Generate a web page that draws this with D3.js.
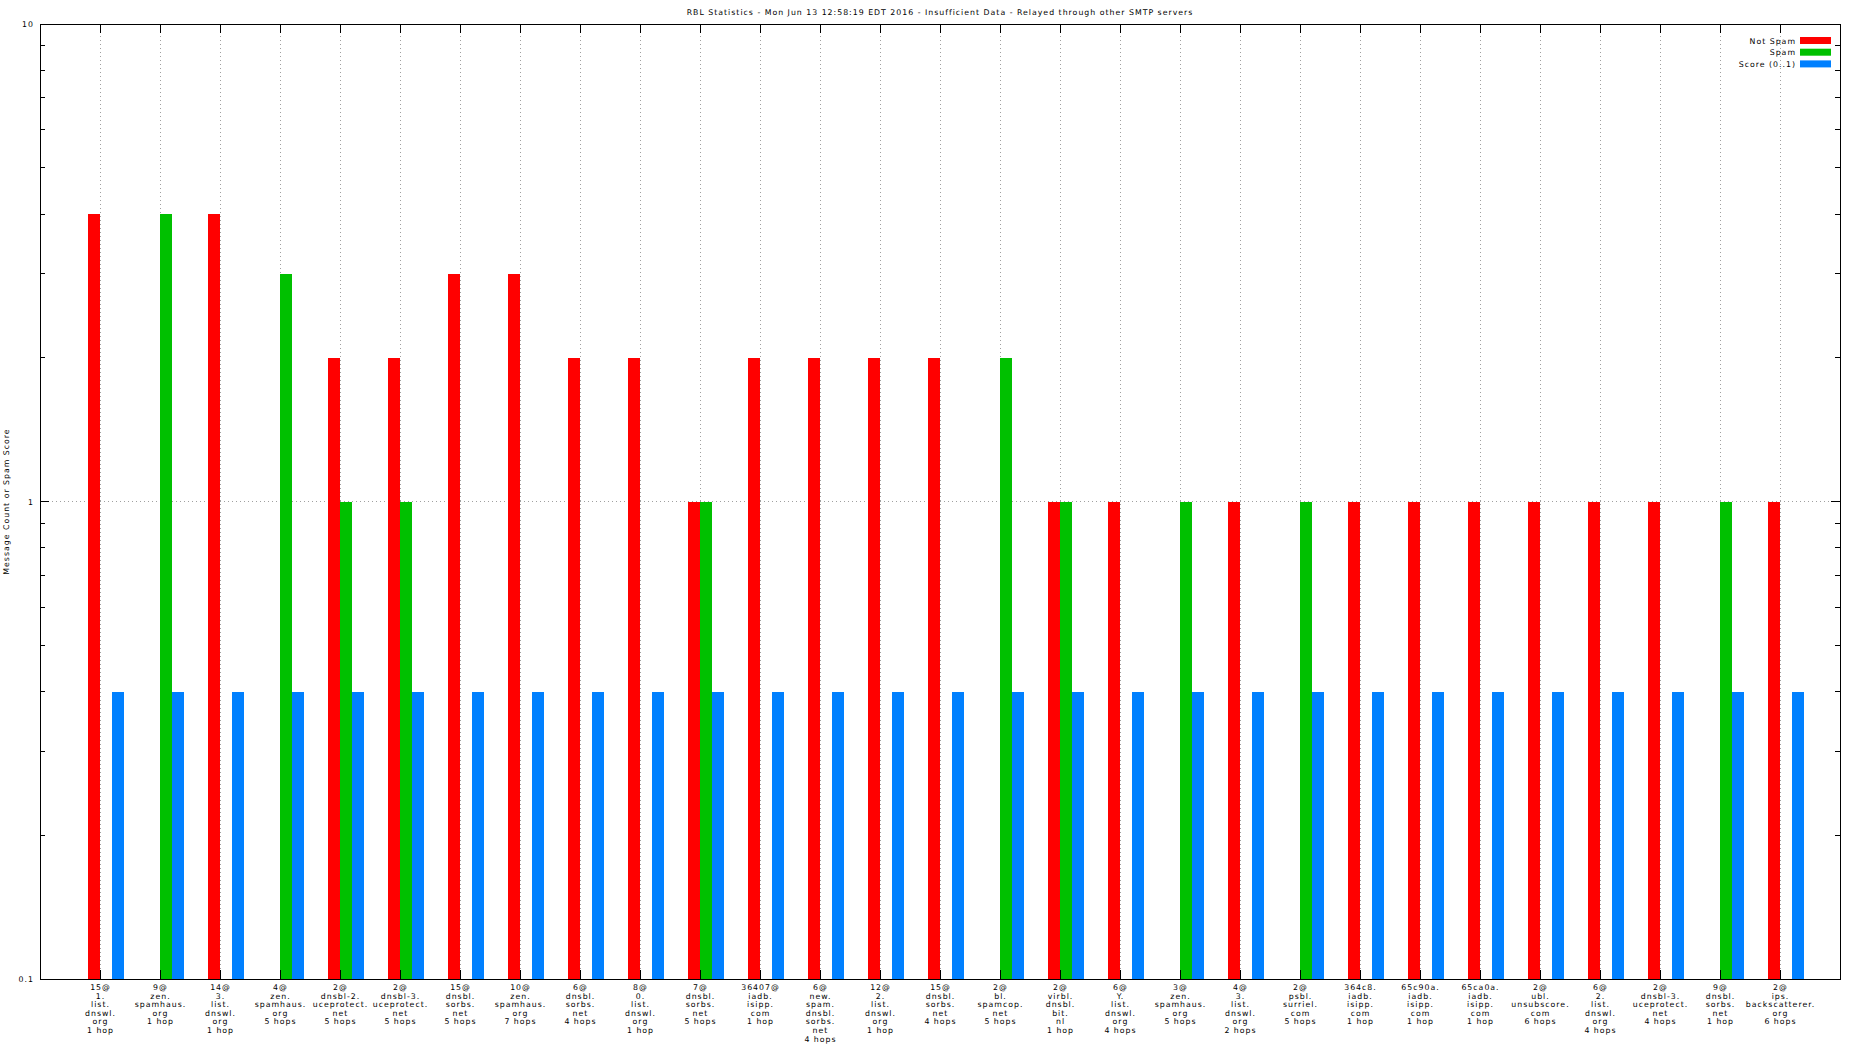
<!DOCTYPE html>
<html><head><meta charset="utf-8">
<script src="https://cdn.jsdelivr.net/npm/d3@7"></script>
<style>
html,body{margin:0;padding:0;background:#fff;}
svg text{font-family:"DejaVu Sans",sans-serif;font-size:7.8px;letter-spacing:1px;fill:#000;}
</style></head><body>
<svg id="c" width="1856" height="1044"></svg>
<script>
const categories = [
"15@\n1.\nlist.\ndnswl.\norg\n1 hop",
"9@\nzen.\nspamhaus.\norg\n1 hop",
"14@\n3.\nlist.\ndnswl.\norg\n1 hop",
"4@\nzen.\nspamhaus.\norg\n5 hops",
"2@\ndnsbl-2.\nuceprotect.\nnet\n5 hops",
"2@\ndnsbl-3.\nuceprotect.\nnet\n5 hops",
"15@\ndnsbl.\nsorbs.\nnet\n5 hops",
"10@\nzen.\nspamhaus.\norg\n7 hops",
"6@\ndnsbl.\nsorbs.\nnet\n4 hops",
"8@\n0.\nlist.\ndnswl.\norg\n1 hop",
"7@\ndnsbl.\nsorbs.\nnet\n5 hops",
"36407@\niadb.\nisipp.\ncom\n1 hop",
"6@\nnew.\nspam.\ndnsbl.\nsorbs.\nnet\n4 hops",
"12@\n2.\nlist.\ndnswl.\norg\n1 hop",
"15@\ndnsbl.\nsorbs.\nnet\n4 hops",
"2@\nbl.\nspamcop.\nnet\n5 hops",
"2@\nvirbl.\ndnsbl.\nbit.\nnl\n1 hop",
"6@\nY.\nlist.\ndnswl.\norg\n4 hops",
"3@\nzen.\nspamhaus.\norg\n5 hops",
"4@\n3.\nlist.\ndnswl.\norg\n2 hops",
"2@\npsbl.\nsurriel.\ncom\n5 hops",
"364c8.\niadb.\nisipp.\ncom\n1 hop",
"65c90a.\niadb.\nisipp.\ncom\n1 hop",
"65ca0a.\niadb.\nisipp.\ncom\n1 hop",
"2@\nubl.\nunsubscore.\ncom\n6 hops",
"6@\n2.\nlist.\ndnswl.\norg\n4 hops",
"2@\ndnsbl-3.\nuceprotect.\nnet\n4 hops",
"9@\ndnsbl.\nsorbs.\nnet\n1 hop",
"2@\nips.\nbackscatterer.\norg\n6 hops"
];
const notSpam = [4,0,4,0,2,2,3,3,2,2,1,2,2,2,2,0,1,1,0,1,0,1,1,1,1,1,1,0,1];
const spam    = [0,4,0,3,1,1,0,0,0,0,1,0,0,0,0,2,1,0,1,0,1,0,0,0,0,0,0,1,0];
const score   = [0.4,0.4,0.4,0.4,0.4,0.4,0.4,0.4,0.4,0.4,0.4,0.4,0.4,0.4,0.4,0.4,0.4,0.4,0.4,0.4,0.4,0.4,0.4,0.4,0.4,0.4,0.4,0.4,0.4];
const seriesNames = ["Not Spam","Spam","Score (0..1)"];
const seriesColors = ["#ff0000","#00c000","#0080ff"];
const yTickLabels = ["0.1","1","10"];
const title = "RBL Statistics - Mon Jun 13 12:58:19 EDT 2016 - Insufficient Data - Relayed through other SMTP servers";
const yTitle = "Message Count or Spam Score";

const L=40,R=1840,T=24,B=979;
const svg=d3.select("#c");
const x=d3.scaleLinear().domain([-1,categories.length]).range([L,R]);
const y=d3.scaleLog().domain([0.1,10]).range([B,T]);
const bw=0.2;
const offsets=[-0.2,0,0.2];

// grid
const g=svg.append("g");
g.selectAll("line.vg").data(categories).enter().append("line")
 .attr("x1",(d,i)=>x(i)).attr("x2",(d,i)=>x(i)).attr("y1",T).attr("y2",B)
 .attr("stroke","#a0a0a0").attr("stroke-width",1).attr("stroke-dasharray","1,3").attr("shape-rendering","crispEdges");
g.append("line").attr("x1",L).attr("x2",R).attr("y1",y(1)).attr("y2",y(1))
 .attr("stroke","#a0a0a0").attr("stroke-dasharray","1,3").attr("shape-rendering","crispEdges");

// bars
const series=[notSpam,spam,score];
series.forEach((vals,s)=>{
  svg.append("g").selectAll("rect").data(vals.map((v,i)=>({v,i})).filter(d=>d.v>0)).enter().append("rect")
   .attr("x",d=>x(d.i+offsets[s]))
   .attr("width",d=>x(d.i+offsets[s]+bw)-x(d.i+offsets[s]))
   .attr("y",d=>y(d.v)).attr("height",d=>B-y(d.v))
   .attr("fill",seriesColors[s]).attr("shape-rendering","crispEdges");
});

// axes
const ax=svg.append("g").attr("shape-rendering","crispEdges");
const minor=[];
[0.1,1].forEach(b=>{for(let k=2;k<=9;k++)minor.push(b*k);});
const major=yTickLabels.map(Number);
major.forEach(v=>{
  ax.append("line").attr("x1",L).attr("x2",L+9).attr("y1",y(v)).attr("y2",y(v)).attr("stroke","#000");
  ax.append("line").attr("x1",R).attr("x2",R-9).attr("y1",y(v)).attr("y2",y(v)).attr("stroke","#000");
});
minor.forEach(v=>{
  ax.append("line").attr("x1",L).attr("x2",L+5).attr("y1",y(v)).attr("y2",y(v)).attr("stroke","#000");
  ax.append("line").attr("x1",R).attr("x2",R-5).attr("y1",y(v)).attr("y2",y(v)).attr("stroke","#000");
});
categories.forEach((c,i)=>{
  ax.append("line").attr("x1",x(i)).attr("x2",x(i)).attr("y1",B).attr("y2",B-9).attr("stroke","#000");
  ax.append("line").attr("x1",x(i)).attr("x2",x(i)).attr("y1",T).attr("y2",T+9).attr("stroke","#000");
});
svg.append("rect").attr("x",L).attr("y",T).attr("width",R-L).attr("height",B-T)
 .attr("fill","none").attr("stroke","#000").attr("stroke-width",1).attr("shape-rendering","crispEdges");

// y tick labels
svg.append("g").selectAll("text").data(yTickLabels).enter().append("text")
 .attr("x",L-6).attr("y",d=>y(+d)+3).attr("text-anchor","end").text(d=>d);

// x tick labels
const xl=svg.append("g");
categories.forEach((c,i)=>{
  const t=xl.append("text").attr("text-anchor","middle").attr("x",x(i)).attr("y",B+11);
  c.split("\n").forEach((line,j)=>{
    t.append("tspan").attr("x",x(i)+0.5).attr("dy",j===0?0:8.6).text(line);
  });
});

// title
svg.append("text").attr("x",(L+R)/2).attr("y",15).attr("text-anchor","middle").text(title);
// y title
svg.append("text").attr("transform",`translate(9,${(T+B)/2}) rotate(-90)`).attr("text-anchor","middle").text(yTitle);

// legend
const lg=svg.append("g");
seriesNames.forEach((n,s)=>{
  const yy=40.5+s*11.7;
  lg.append("text").attr("x",1796).attr("y",yy+3).attr("text-anchor","end").text(n);
  lg.append("rect").attr("x",1800).attr("y",yy-3.5).attr("width",31).attr("height",7).attr("fill",seriesColors[s]);
});
</script></body></html>
